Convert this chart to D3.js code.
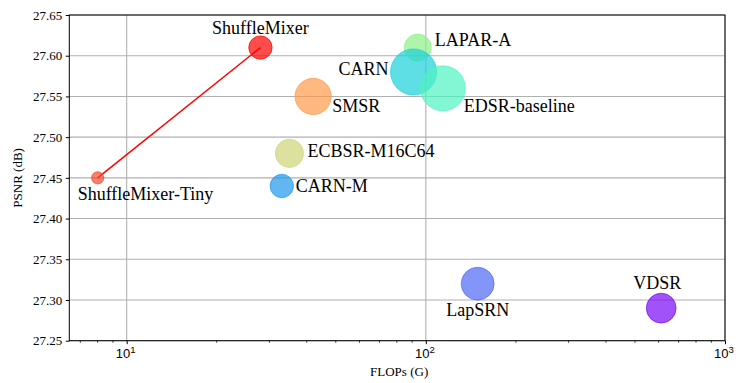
<!DOCTYPE html>
<html>
<head>
<meta charset="utf-8">
<script src="https://cdn.jsdelivr.net/npm/d3@7"></script>
<style>
  body { margin: 0; background: #fff; }
  svg { display: block; font-family: "Liberation Serif", "DejaVu Serif", serif; }
</style>
</head>
<body>
<div id="chart"></div>
<script>
// model names, FLOPs (G), PSNR (dB) and params (K) -> bubble area
const models = ['ShuffleMixer-Tiny', 'ShuffleMixer', 'SMSR', 'ECBSR-M16C64', 'CARN-M',
  'LAPAR-A', 'CARN', 'EDSR-baseline', 'LapSRN', 'VDSR']
const flops = [8, 28, 42, 35, 33, 94, 91, 114, 149, 612]
const psnr = [27.45, 27.61, 27.55, 27.48, 27.44, 27.61, 27.58, 27.56, 27.32, 27.29]
const params = [113, 411, 985, 596, 412, 548, 1592, 1518, 813, 665]
const yTicks = [27.25, 27.30, 27.35, 27.40, 27.45, 27.50, 27.55, 27.60, 27.65]
const xTicks = [10, 100, 1000]

const colors = {
  'ShuffleMixer-Tiny': '#f5492f',
  'ShuffleMixer': '#ff0000',
  'SMSR': '#ff9a4a',
  'ECBSR-M16C64': '#cdd477',
  'CARN-M': '#1f98ec',
  'LAPAR-A': '#8bf088',
  'CARN': '#1ad0da',
  'EDSR-baseline': '#4ef2c2',
  'LapSRN': '#5068f8',
  'VDSR': '#7a08f6'
}

// label placement: [dx, dy, anchor]
const labelPos = {
  'ShuffleMixer-Tiny': [-20, 22, 'start'],
  'ShuffleMixer': [0, -14, 'middle'],
  'SMSR': [19, 16, 'start'],
  'ECBSR-M16C64': [18, 4, 'start'],
  'CARN-M': [14, 6, 'start'],
  'LAPAR-A': [17, -2, 'start'],
  'CARN': [-25, 3.5, 'end'],
  'EDSR-baseline': [21, 24, 'start'],
  'LapSRN': [0, 32, 'middle'],
  'VDSR': [-4, -19, 'middle']
}

const W = 747
const H = 383
const margin = { top: 15, right: 22, bottom: 42.3, left: 69.3 }
const width = W - margin.left - margin.right
const height = H - margin.top - margin.bottom

const data = models.map((m, i) => ({ name: m, flops: flops[i], psnr: psnr[i], params: params[i] }))

const x = d3.scaleLog().domain([6.43, 1000]).range([0, width])
const y = d3.scaleLinear().domain([27.25, 27.65]).range([height, 0])
const r = d3.scaleSqrt().domain([0, 1592]).range([0, 23])

const svg = d3.select('#chart').append('svg')
  .attr('width', W)
  .attr('height', H)

const g = svg.append('g')
  .attr('transform', 'translate(' + margin.left + ',' + margin.top + ')')

// grid
g.append('g').selectAll('line.hg').data(yTicks).join('line')
  .attr('x1', 0).attr('x2', width)
  .attr('y1', d => y(d)).attr('y2', d => y(d))
  .attr('stroke', '#b0b0b0').attr('stroke-width', 1.1)
g.append('g').selectAll('line.vg').data(xTicks).join('line')
  .attr('x1', d => x(d)).attr('x2', d => x(d))
  .attr('y1', 0).attr('y2', height)
  .attr('stroke', '#b0b0b0').attr('stroke-width', 1.1)

// line between ShuffleMixer variants
const sm = data.filter(d => d.name.startsWith('ShuffleMixer'))
g.append('path')
  .attr('d', d3.line().x(d => x(d.flops)).y(d => y(d.psnr))(sm))
  .attr('fill', 'none')
  .attr('stroke', '#ff0000')
  .attr('stroke-width', 1.5)

// bubbles
g.append('g').selectAll('circle').data(data).join('circle')
  .attr('cx', d => x(d.flops))
  .attr('cy', d => y(d.psnr))
  .attr('r', d => r(d.params))
  .attr('fill', d => colors[d.name])
  .attr('fill-opacity', 0.7)
  .attr('stroke', d => colors[d.name])
  .attr('stroke-opacity', 0.7)
  .attr('stroke-width', 1)

// labels
g.append('g').selectAll('text').data(data).join('text')
  .attr('x', d => x(d.flops) + labelPos[d.name][0])
  .attr('y', d => y(d.psnr) + labelPos[d.name][1])
  .attr('text-anchor', d => labelPos[d.name][2])
  .attr('font-size', 18)
  .attr('fill', '#000')
  .text(d => d.name)

// axes
const axisY = d3.axisLeft(y)
  .tickValues(yTicks)
  .tickFormat(d3.format('.2f'))
  .tickSize(3.5)
  .tickPadding(3.5)
  .tickSizeOuter(0)
const gy = g.append('g').call(axisY)
gy.select('.domain').remove()
gy.selectAll('text').attr('font-size', 13).attr('font-family', 'Liberation Serif').attr('fill', '#000')

const minor = []
for (let k = 1; k <= 2; k++) {
  for (let m = 2; m <= 9; m++) {
    const v = m * Math.pow(10, k - 1) * 1
    if (v * 1 >= 6.43 && v < 1000) minor.push(v)
  }
}
for (let m = 2; m <= 9; m++) minor.push(m * 100)
const minorTicks = minor.filter(v => v >= 6.43 && v <= 1000 && !xTicks.includes(v))

const gx = g.append('g').attr('transform', 'translate(0,' + height + ')')
gx.call(d3.axisBottom(x).tickValues(xTicks).tickFormat('').tickSize(3.5).tickSizeOuter(0))
gx.select('.domain').remove()
gx.selectAll('.minor').data(minorTicks).join('line')
  .attr('x1', d => x(d)).attr('x2', d => x(d))
  .attr('y1', 0).attr('y2', 2)
  .attr('stroke', '#000').attr('stroke-width', 0.8)

const xl = gx.selectAll('.xl').data(xTicks).join('text')
  .attr('x', d => x(d) - 1)
  .attr('y', 17.5)
  .attr('text-anchor', 'middle')
  .attr('font-size', 13)
  .attr('fill', '#000')
xl.append('tspan').text('10')
xl.append('tspan').attr('font-size', 9.5).attr('dy', -5).text(d => Math.round(Math.log10(d)))

// frame
g.append('rect')
  .attr('width', width).attr('height', height)
  .attr('fill', 'none').attr('stroke', '#000').attr('stroke-width', 1)

// axis titles
g.append('text')
  .attr('x', width / 2 + 2)
  .attr('y', height + 35)
  .attr('text-anchor', 'middle')
  .attr('font-size', 13)
  .text('FLOPs (G)')

g.append('text')
  .attr('transform', 'translate(' + (-margin.left + 21.5) + ',' + (height / 2) + ') rotate(-90)')
  .attr('text-anchor', 'middle')
  .attr('font-size', 13)
  .text('PSNR (dB)')
</script>
</body>
</html>
